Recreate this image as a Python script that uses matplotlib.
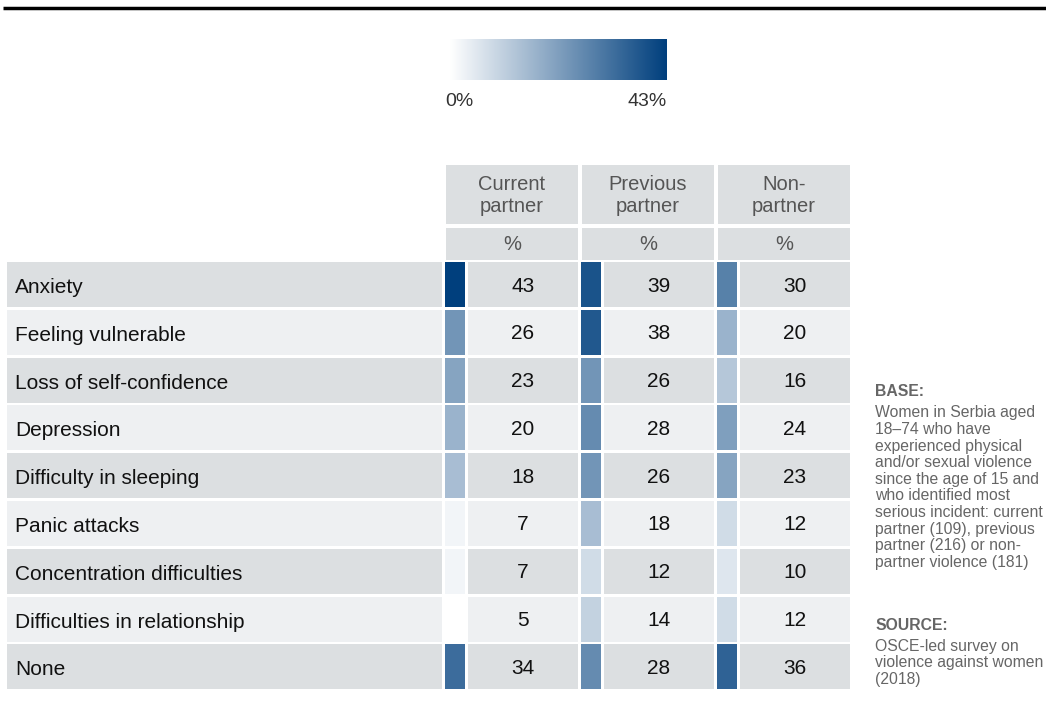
import matplotlib
matplotlib.use('agg')
import numpy as np
import matplotlib.pyplot as plt
from matplotlib.patches import Rectangle
from matplotlib.colors import LinearSegmentedColormap

plt.rcParams['font.family'] = ['Liberation Sans', 'DejaVu Sans']

# Data
rows = ['Anxiety', 'Feeling vulnerable', 'Loss of self-confidence', 'Depression',
        'Difficulty in sleeping', 'Panic attacks', 'Concentration difficulties',
        'Difficulties in relationship', 'None']
columns = ['Current\npartner', 'Previous\npartner', 'Non-\npartner']
current_partner = [43, 26, 23, 20, 18, 7, 7, 5, 34]
previous_partner = [39, 38, 26, 28, 26, 18, 12, 14, 28]
non_partner = [30, 20, 16, 24, 23, 12, 10, 12, 36]
scale_labels = ['0%', '43%']

values = np.array([current_partner, previous_partner, non_partner]).T
cmap = LinearSegmentedColormap.from_list('blues', ['#ffffff', '#003f7d'])
# shading runs from the smallest to the largest value in the table
norm = plt.Normalize(values.min(), values.max())

W, H = 1046, 713
fig = plt.figure(figsize=(W / 100, H / 100), dpi=100)
ax = fig.add_axes([0, 0, 1, 1])
ax.set_xlim(0, W)
ax.set_ylim(H, 0)
ax.axis('off')

dark_bg = '#dcdfe1'
light_bg = '#eef0f2'
grey_txt = '#555555'

# top rule
ax.plot([3, W], [8, 8], color='black', lw=2.5, solid_capstyle='butt')

# colour scale
grad = np.linspace(0, 1, 256).reshape(1, -1)
ax.imshow(grad, cmap=cmap, aspect='auto', extent=(450, 667, 80, 39))
ax.text(459, 102, scale_labels[0], ha='center', va='center', fontsize=14, color='#333333')
ax.text(667, 102, scale_labels[1], ha='right', va='center', fontsize=14, color='#333333')

# column layout
col_x = [446, 582, 718]
col_w = 132
sw_w = 19
gap = 3

# header
for j, name in enumerate(columns):
    x0 = col_x[j]
    ax.add_patch(Rectangle((x0, 165), col_w, 59, color=dark_bg, lw=0))
    ax.text(x0 + col_w / 2, 196, name, ha='center', va='center', fontsize=14.5,
            color=grey_txt, linespacing=1.2)
    ax.add_patch(Rectangle((x0, 228), col_w, 32, color=dark_bg, lw=0))
    ax.text(x0 + col_w / 2, 244, '%', ha='center', va='center', fontsize=14.5,
            color=grey_txt)

# data rows
row_top = 262
row_pitch = 47.8
row_h = 45
for i, label in enumerate(rows):
    y0 = row_top + i * row_pitch
    bg = dark_bg if i % 2 == 0 else light_bg
    yc = y0 + row_h / 2
    ax.add_patch(Rectangle((7, y0), 435, row_h, color=bg, lw=0))
    ax.text(15, yc + 3, label, ha='left', va='center', fontsize=15, color='#111111')
    for j in range(3):
        x0 = col_x[j] - 1
        v = values[i, j]
        ax.add_patch(Rectangle((x0, y0), sw_w + 1, row_h, color=cmap(norm(v)), lw=0))
        cx0 = x0 + sw_w + 1 + gap
        cw = col_x[j] + col_w - cx0
        ax.add_patch(Rectangle((cx0, y0), cw, row_h, color=bg, lw=0))
        ax.text(cx0 + cw / 2, yc + 1.5, str(v), ha='center', va='center', fontsize=15,
                color='#111111')

# side note
note_color = '#666666'
ax.text(875, 392, 'BASE:', ha='left', va='center', fontsize=11.3, fontweight='bold',
        color=note_color)
base_lines = ['Women in Serbia aged', '18\u201374 who have', 'experienced physical',
              'and/or sexual violence', 'since the age of 15 and', 'who identified most',
              'serious incident: current', 'partner (109), previous',
              'partner (216) or non-', 'partner violence (181)']
for k, line in enumerate(base_lines):
    ax.text(875, 413 + k * 16.6, line, ha='left', va='center', fontsize=11.3,
            color=note_color)
ax.text(875, 625, 'SOURCE:', ha='left', va='center', fontsize=11.3, fontweight='bold',
        color=note_color)
src_lines = ['OSCE-led survey on', 'violence against women', '(2018)']
for k, line in enumerate(src_lines):
    ax.text(875, 646 + k * 16.6, line, ha='left', va='center', fontsize=11.3,
            color=note_color)

fig.savefig('out.png', dpi=100)
